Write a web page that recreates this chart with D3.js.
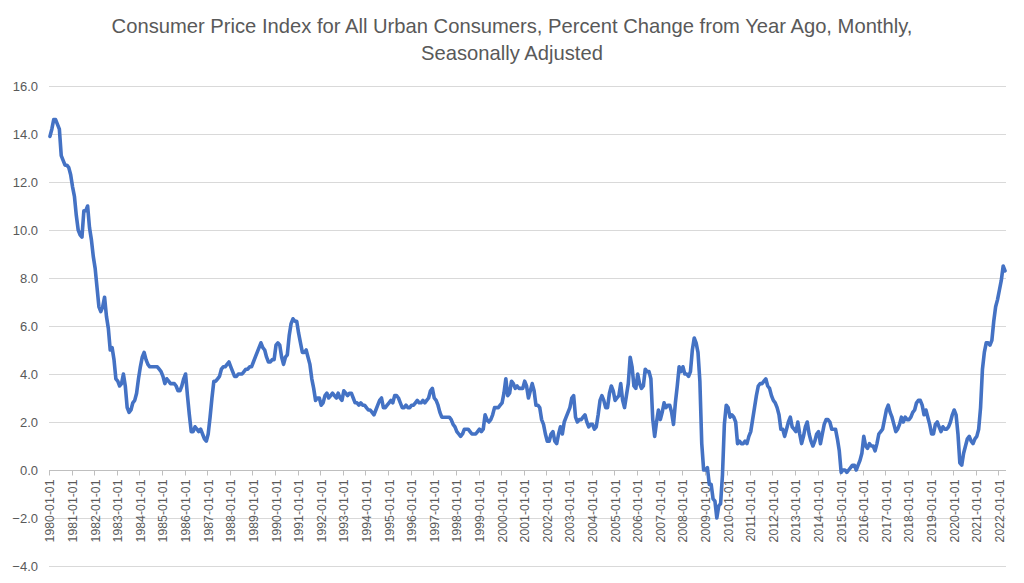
<!DOCTYPE html>
<html lang="en">
<head>
    <meta charset="utf-8">
    <script src="https://cdn.jsdelivr.net/npm/d3@7"></script>
    <style type="text/css">
        body { margin: 0; background: #ffffff; }
        text { font-family: "Liberation Sans", Arial, sans-serif; fill: #595959; }
    </style>
</head>
<body>
    <script>
        // CPI-U, percent change from year ago, one row of 12 months per year, 1980 .. 2022 (Jan-Apr)
        const startYear = 1980;
        const cpiByYear = [
            [13.9, 14.2, 14.6, 14.6, 14.4, 14.2, 13.1, 12.9, 12.7, 12.7, 12.6, 12.3],
            [11.8, 11.4, 10.6, 10.0, 9.8, 9.7, 10.8, 10.8, 11.0, 10.1, 9.6, 8.9],
            [8.4, 7.6, 6.8, 6.6, 6.8, 7.2, 6.4, 5.9, 5.0, 5.1, 4.6, 3.8],
            [3.7, 3.5, 3.6, 4.0, 3.5, 2.6, 2.4, 2.5, 2.8, 2.9, 3.2, 3.8],
            [4.3, 4.7, 4.9, 4.6, 4.4, 4.3, 4.3, 4.3, 4.3, 4.3, 4.2, 4.1],
            [3.9, 3.6, 3.8, 3.7, 3.6, 3.6, 3.6, 3.5, 3.3, 3.3, 3.5, 3.8],
            [4.0, 3.1, 2.3, 1.6, 1.6, 1.8, 1.7, 1.6, 1.7, 1.5, 1.3, 1.2],
            [1.5, 2.2, 3.0, 3.7, 3.7, 3.8, 3.9, 4.2, 4.3, 4.3, 4.4, 4.5],
            [4.3, 4.1, 3.9, 3.9, 4.0, 4.0, 4.0, 4.1, 4.2, 4.2, 4.3, 4.3],
            [4.5, 4.7, 4.9, 5.1, 5.3, 5.1, 5.0, 4.7, 4.5, 4.5, 4.6, 4.6],
            [5.2, 5.3, 5.2, 4.7, 4.4, 4.7, 4.8, 5.6, 6.1, 6.3, 6.2, 6.2],
            [5.7, 5.3, 4.9, 4.9, 5.0, 4.7, 4.4, 3.8, 3.4, 2.9, 3.0, 3.0],
            [2.7, 2.8, 3.1, 3.2, 3.0, 3.1, 3.2, 3.1, 3.0, 3.2, 3.0, 2.9],
            [3.3, 3.2, 3.1, 3.2, 3.2, 3.0, 2.8, 2.8, 2.7, 2.8, 2.7, 2.7],
            [2.6, 2.5, 2.5, 2.4, 2.3, 2.5, 2.7, 2.9, 3.0, 2.6, 2.6, 2.7],
            [2.8, 2.9, 2.8, 3.1, 3.1, 3.0, 2.8, 2.6, 2.6, 2.7, 2.6, 2.6],
            [2.7, 2.7, 2.8, 2.9, 2.8, 2.8, 2.9, 2.8, 2.9, 3.0, 3.3, 3.4],
            [3.0, 2.9, 2.7, 2.4, 2.2, 2.2, 2.2, 2.2, 2.2, 2.1, 1.9, 1.8],
            [1.6, 1.5, 1.4, 1.5, 1.7, 1.7, 1.7, 1.6, 1.5, 1.5, 1.5, 1.6],
            [1.7, 1.6, 1.7, 2.3, 2.1, 2.0, 2.1, 2.3, 2.6, 2.6, 2.6, 2.7],
            [2.8, 3.2, 3.8, 3.1, 3.2, 3.7, 3.6, 3.4, 3.5, 3.4, 3.4, 3.4],
            [3.7, 3.5, 3.0, 3.3, 3.6, 3.3, 2.7, 2.7, 2.6, 2.1, 1.9, 1.5],
            [1.2, 1.2, 1.5, 1.6, 1.2, 1.1, 1.5, 1.8, 1.5, 2.0, 2.2, 2.4],
            [2.6, 3.0, 3.1, 2.2, 2.0, 2.1, 2.1, 2.2, 2.3, 2.0, 1.8, 1.9],
            [1.9, 1.7, 1.8, 2.3, 2.9, 3.1, 2.9, 2.6, 2.6, 3.2, 3.5, 3.3],
            [2.9, 3.0, 3.1, 3.6, 2.9, 2.6, 3.1, 3.6, 4.7, 4.3, 3.5, 3.4],
            [4.0, 3.6, 3.4, 3.5, 4.2, 4.1, 4.1, 3.8, 2.1, 1.4, 2.0, 2.5],
            [2.1, 2.4, 2.8, 2.6, 2.7, 2.7, 2.4, 1.9, 2.8, 3.5, 4.3, 4.1],
            [4.3, 4.0, 4.0, 3.9, 4.1, 5.0, 5.5, 5.3, 4.9, 3.7, 1.1, 0.0],
            [0.0, 0.1, -0.6, -0.6, -1.2, -1.3, -2.0, -1.5, -1.4, -0.2, 1.9, 2.7],
            [2.6, 2.2, 2.3, 2.2, 2.0, 1.1, 1.2, 1.1, 1.1, 1.2, 1.1, 1.4],
            [1.6, 2.1, 2.6, 3.1, 3.5, 3.6, 3.6, 3.7, 3.8, 3.5, 3.4, 3.1],
            [2.9, 2.8, 2.6, 2.3, 1.7, 1.7, 1.4, 1.7, 2.0, 2.2, 1.8, 1.7],
            [1.6, 2.0, 1.5, 1.1, 1.4, 1.8, 2.0, 1.5, 1.2, 1.0, 1.2, 1.5],
            [1.6, 1.1, 1.5, 1.9, 2.1, 2.1, 2.0, 1.7, 1.7, 1.7, 1.3, 0.8],
            [-0.1, 0.0, 0.0, -0.1, 0.0, 0.1, 0.2, 0.2, 0.0, 0.2, 0.4, 0.7],
            [1.4, 1.0, 0.9, 1.1, 1.0, 1.0, 0.8, 1.1, 1.5, 1.6, 1.7, 2.1],
            [2.5, 2.7, 2.4, 2.2, 1.9, 1.6, 1.7, 1.9, 2.2, 2.0, 2.2, 2.1],
            [2.1, 2.2, 2.4, 2.5, 2.8, 2.9, 2.9, 2.7, 2.3, 2.5, 2.2, 1.9],
            [1.5, 1.5, 1.9, 2.0, 1.8, 1.6, 1.8, 1.7, 1.7, 1.8, 2.0, 2.3],
            [2.5, 2.3, 1.5, 0.3, 0.2, 0.7, 1.0, 1.3, 1.4, 1.2, 1.1, 1.3],
            [1.4, 1.7, 2.6, 4.2, 4.9, 5.3, 5.3, 5.2, 5.4, 6.2, 6.8, 7.1],
            [7.5, 7.9, 8.5, 8.3]
        ];
        const yTicks = [-4, -2, 0, 2, 4, 6, 8, 10, 12, 14, 16];
        const titleLines = [
            "Consumer Price Index for All Urban Consumers, Percent Change from Year Ago, Monthly,",
            "Seasonally Adjusted"
        ];

        const pad = n => String(n).padStart(2, "0");
        let dataset = [];
        cpiByYear.forEach((row, i) => {
            row.forEach((v, m) => {
                dataset.push({ label: (startYear + i) + "-" + pad(m + 1) + "-01", month: m, value: v });
            });
        });

        let w = 1024;
        let h = 583;
        let plotLeft = 49, plotRight = 1006, plotTop = 86, plotBottom = 566;

        let svg = d3.select("body")
                    .append("svg")
                    .attr("width", w)
                    .attr("height", h);

        let xScale = d3.scaleBand()
                        .domain(dataset.map(d => d.label))
                        .range([plotLeft, plotRight])
                        .padding(0);
        let yScale = d3.scaleLinear()
                        .domain([-4, 16])
                        .range([plotBottom, plotTop]);

        // gridlines
        svg.append("g")
            .selectAll("line")
            .data(yTicks)
            .enter()
            .append("line")
            .attr("x1", plotLeft)
            .attr("x2", plotRight)
            .attr("y1", d => Math.round(yScale(d)) + 0.5)
            .attr("y2", d => Math.round(yScale(d)) + 0.5)
            .attr("stroke", "#d9d9d9")
            .attr("stroke-width", 1);

        // y axis labels
        let yAxis = d3.axisLeft(yScale)
                        .tickValues(yTicks)
                        .tickFormat(d3.format(".1f"))
                        .tickSize(0)
                        .tickPadding(11);
        let gy = svg.append("g")
                    .attr("transform", "translate(" + plotLeft + ",0)")
                    .call(yAxis);
        gy.select(".domain").remove();
        gy.attr("font-family", null);
        gy.selectAll("text")
            .attr("font-size", "13px")
            .attr("fill", "#595959");

        // category axis at zero, labels at every January
        let januaries = dataset.filter(d => d.month === 0).map(d => d.label);
        let y0 = Math.round(yScale(0)) + 0.5;
        let axisG = svg.append("g");
        axisG.append("line")
            .attr("x1", plotLeft)
            .attr("x2", plotRight)
            .attr("y1", y0)
            .attr("y2", y0)
            .attr("stroke", "#bfbfbf");
        axisG.selectAll(".tick-mark")
            .data(januaries)
            .enter()
            .append("line")
            .attr("class", "tick-mark")
            .attr("x1", d => Math.round(xScale(d)) + 0.5)
            .attr("x2", d => Math.round(xScale(d)) + 0.5)
            .attr("y1", y0)
            .attr("y2", y0 + 5)
            .attr("stroke", "#bfbfbf");
        axisG.selectAll(".tick-label")
            .data(januaries)
            .enter()
            .append("text")
            .attr("class", "tick-label")
            .attr("transform", d => "translate(" + (xScale(d) + xScale.bandwidth() / 2 + 4.5) + "," + (y0 + 9) + ") rotate(-90)")
            .attr("text-anchor", "end")
            .attr("font-size", "12.3px")
            .text(d => d);

        // the series
        let line = d3.line()
                    .x(d => xScale(d.label) + xScale.bandwidth() / 2)
                    .y(d => yScale(d.value))
                    .curve(d3.curveLinear);
        svg.append("path")
            .datum(dataset)
            .attr("d", line)
            .attr("fill", "none")
            .attr("stroke", "#4472c4")
            .attr("stroke-width", 3.6)
            .attr("stroke-linejoin", "round")
            .attr("stroke-linecap", "round");

        // title
        svg.selectAll(".title")
            .data(titleLines)
            .enter()
            .append("text")
            .attr("class", "title")
            .attr("x", 512)
            .attr("y", (d, i) => 33 + i * 27)
            .attr("text-anchor", "middle")
            .attr("font-size", "20.2px")
            .text(d => d);
    </script>
</body>
</html>
